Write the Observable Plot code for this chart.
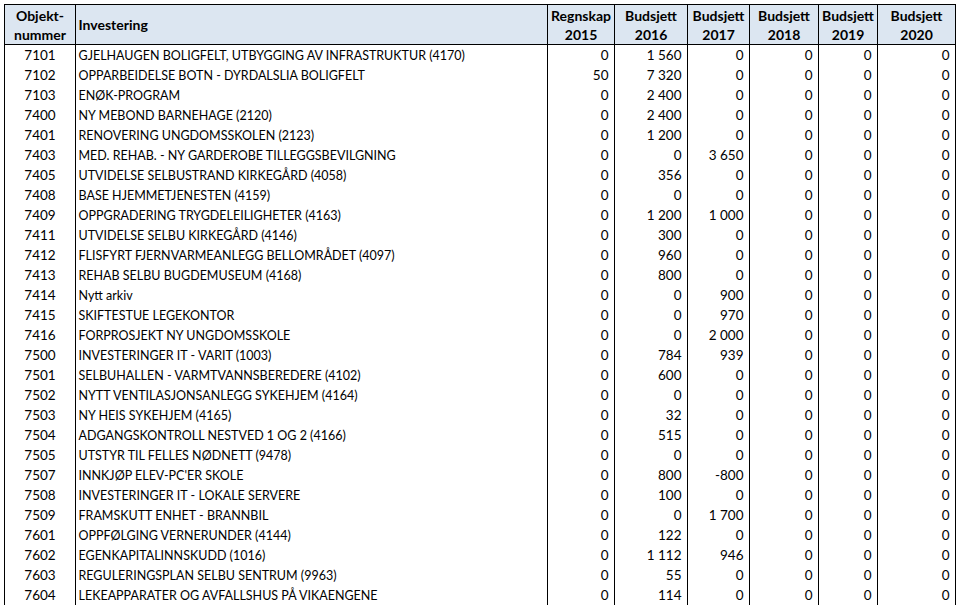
<!DOCTYPE html>
<html><head><meta charset="utf-8">
<script src="https://cdn.jsdelivr.net/npm/d3@7"></script>
<script src="https://cdn.jsdelivr.net/npm/@observablehq/plot@0.6"></script>
<style>body{margin:0;background:#fff}#chart svg{display:block}</style>
</head><body><div id="chart"></div>
<script>
// ---- data ----
const objektnummer = [7101,7102,7103,7400,7401,7403,7405,7408,7409,7411,7412,7413,7414,7415,7416,7500,7501,7502,7503,7504,7505,7507,7508,7509,7601,7602,7603,7604];
const investering = [
  "GJELHAUGEN BOLIGFELT, UTBYGGING AV INFRASTRUKTUR (4170)",
  "OPPARBEIDELSE BOTN - DYRDALSLIA BOLIGFELT",
  "ENØK-PROGRAM",
  "NY MEBOND BARNEHAGE (2120)",
  "RENOVERING UNGDOMSSKOLEN (2123)",
  "MED. REHAB. - NY GARDEROBE TILLEGGSBEVILGNING",
  "UTVIDELSE SELBUSTRAND KIRKEGÅRD (4058)",
  "BASE HJEMMETJENESTEN (4159)",
  "OPPGRADERING TRYGDELEILIGHETER (4163)",
  "UTVIDELSE SELBU KIRKEGÅRD (4146)",
  "FLISFYRT FJERNVARMEANLEGG BELLOMRÅDET (4097)",
  "REHAB SELBU BUGDEMUSEUM (4168)",
  "Nytt arkiv",
  "SKIFTESTUE LEGEKONTOR",
  "FORPROSJEKT NY UNGDOMSSKOLE",
  "INVESTERINGER IT - VARIT (1003)",
  "SELBUHALLEN - VARMTVANNSBEREDERE (4102)",
  "NYTT VENTILASJONSANLEGG SYKEHJEM (4164)",
  "NY HEIS SYKEHJEM (4165)",
  "ADGANGSKONTROLL NESTVED 1 OG 2 (4166)",
  "UTSTYR TIL FELLES NØDNETT (9478)",
  "INNKJØP ELEV-PC'ER SKOLE",
  "INVESTERINGER IT - LOKALE SERVERE",
  "FRAMSKUTT ENHET - BRANNBIL",
  "OPPFØLGING VERNERUNDER (4144)",
  "EGENKAPITALINNSKUDD (1016)",
  "REGULERINGSPLAN SELBU SENTRUM (9963)",
  "LEKEAPPARATER OG AVFALLSHUS PÅ VIKAENGENE"
];
const regnskap2015 = [0,50,0,0,0,0,0,0,0,0,0,0,0,0,0,0,0,0,0,0,0,0,0,0,0,0,0,0];
const budsjett2016 = [1560,7320,2400,2400,1200,0,356,0,1200,300,960,800,0,0,0,784,600,0,32,515,0,800,100,0,122,1112,55,114];
const budsjett2017 = [0,0,0,0,0,3650,0,0,1000,0,0,0,900,970,2000,939,0,0,0,0,0,-800,0,1700,0,946,0,0];
const budsjett2018 = [0,0,0,0,0,0,0,0,0,0,0,0,0,0,0,0,0,0,0,0,0,0,0,0,0,0,0,0];
const budsjett2019 = [0,0,0,0,0,0,0,0,0,0,0,0,0,0,0,0,0,0,0,0,0,0,0,0,0,0,0,0];
const budsjett2020 = [0,0,0,0,0,0,0,0,0,0,0,0,0,0,0,0,0,0,0,0,0,0,0,0,0,0,0,0];
const columnHeaders = [["Objekt-","nummer"],["Investering"],["Regnskap","2015"],["Budsjett","2016"],["Budsjett","2017"],["Budsjett","2018"],["Budsjett","2019"],["Budsjett","2020"]];
const valueSeries = [regnskap2015, budsjett2016, budsjett2017, budsjett2018, budsjett2019, budsjett2020];

// ---- layout ----
const colWidths = [71,472,67,73,62,69,59,78];
const edges = [4];
colWidths.forEach(w => edges.push(edges[edges.length-1] + w));
const centers = colWidths.map((w,i) => edges[i] + w/2);

const nb = d3.formatLocale({decimal: ",", thousands: "\u00a0", grouping: [3], currency: ["", ""], minus: "-"});
const fmt = nb.format(",d");

const rows = objektnummer.map((id, i) => ({i, id, name: investering[i]}));
const cells = [];
valueSeries.forEach((s, c) => s.forEach((v, i) => cells.push({i, c, v})));
const headerCells = [];
columnHeaders.forEach((lines, c) => lines.forEach((t, k) => headerCells.push({c, t, y: lines.length === 1 ? -1 : (k === 0 ? -1.45 : -0.5)})));
const headerLeft = headerCells.filter(d => d.c === 1);
const headerCentered = headerCells.filter(d => d.c !== 1);

const font = "Lato, 'Open Sans', sans-serif";
const fs = 12.5;
const hfs = 14;

const chart = Plot.plot({
  width: 960, height: 605,
  margin: 0,
  style: {fontFamily: font, fontSize: fs + "px", background: "#fff", color: "#000"},
  x: {type: "linear", domain: [0, 960], range: [0, 960], axis: null},
  y: {type: "linear", domain: [-2.2, 28.05], range: [0, 605], axis: null},
  marks: [
    Plot.rect([0], {x1: edges[0], x2: edges[edges.length-1], y1: -2, y2: 0, fill: "#dce6f1"}),
    Plot.ruleY([-2, 0], {x1: edges[0], x2: edges[edges.length-1], stroke: "#000", strokeWidth: 1}),
    Plot.ruleX(edges, {y1: -2, y2: 28.05, stroke: "#000", strokeWidth: 1}),
    Plot.text(headerCentered, {x: d => centers[d.c], y: "y", text: "t", dy: 1.5, textAnchor: "middle", fontWeight: "bold", fontSize: hfs, fill: "#000"}),
    Plot.text(headerLeft, {x: edges[1] + 3, y: "y", text: "t", dy: 1, textAnchor: "start", fontWeight: "bold", fontSize: hfs, fill: "#000"}),
    Plot.text(rows, {x: centers[0], y: d => d.i + 0.5, text: d => String(d.id), dy: 1.5, textAnchor: "middle", fontSize: 13.5, fill: "#000"}),
    Plot.text(rows, {x: edges[1] + 3, y: d => d.i + 0.5, text: "name", dy: 1.5, textAnchor: "start", fontSize: fs, fill: "#000"}),
    Plot.text(cells, {x: d => edges[d.c + 3] - 6, y: d => d.i + 0.5, text: d => fmt(d.v), dy: 1.5, textAnchor: "end", fontSize: 13.5, fill: "#000"})
  ]
});
document.getElementById("chart").append(chart);
</script>
</body></html>
